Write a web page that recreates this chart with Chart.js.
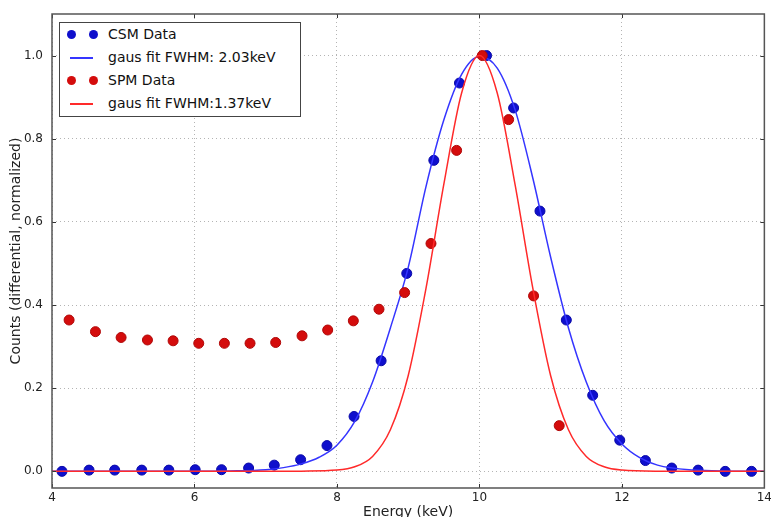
<!DOCTYPE html>
<html>
<head>
<meta charset="utf-8">
<title>Energy spectrum</title>
<script src="https://cdn.jsdelivr.net/npm/chart.js@4"></script>
<style>
  html, body { margin: 0; padding: 0; background: #fff; overflow: hidden; }
  #wrap { position: relative; width: 771px; height: 517px; overflow: hidden; }
  #legend {
    position: absolute; left: 59px; top: 22px; width: 240px; height: 93px;
    border: 1px solid #444; background: #fff;
    font-family: "DejaVu Sans", sans-serif; font-size: 14px; color: #111;
  }
  .row { position: absolute; left: 0; height: 23px; line-height: 23px; width: 100%; }
  .row span.lbl { position: absolute; left: 48px; white-space: nowrap; }
  .dot { position: absolute; top: 7px; width: 9px; height: 9px; border-radius: 50%; }
  .ln { position: absolute; top: 11px; left: 10px; width: 23px; height: 1.5px; }
</style>
</head>
<body>
<div id="wrap">
  <canvas id="chart" width="775" height="517"></canvas>
  <div id="legend">
    <div class="row" style="top:0px"><i class="dot" style="left:7px;background:#0f0fcc"></i><i class="dot" style="left:29px;background:#0f0fcc"></i><span class="lbl">CSM Data</span></div>
    <div class="row" style="top:23px"><i class="ln" style="background:#3535ff"></i><span class="lbl">gaus fit FWHM: 2.03keV</span></div>
    <div class="row" style="top:46px"><i class="dot" style="left:7px;background:#d40c0c"></i><i class="dot" style="left:29px;background:#d40c0c"></i><span class="lbl">SPM Data</span></div>
    <div class="row" style="top:69px"><i class="ln" style="background:#ff2a2a"></i><span class="lbl">gaus fit FWHM:1.37keV</span></div>
  </div>
</div>
<script>
// CSM measured points (energy keV, normalized counts)
const csmEnergy = [4.14, 4.52, 4.88, 5.26, 5.64, 6.01, 6.38, 6.76, 7.12, 7.49, 7.86, 8.24, 8.62,
  8.98, 9.36, 9.72, 10.10, 10.48, 10.85, 11.22, 11.59, 11.97, 12.33, 12.70, 13.07, 13.45, 13.82];
const csmCounts = [0.0, 0.003, 0.003, 0.003, 0.003, 0.004, 0.004, 0.008, 0.015, 0.028, 0.062, 0.132, 0.266,
  0.476, 0.748, 0.934, 1.0, 0.874, 0.626, 0.364, 0.183, 0.075, 0.026, 0.008, 0.003, 0.0, 0.0];

// SPM measured points
const spmEnergy = [4.24, 4.61, 4.97, 5.34, 5.70, 6.06, 6.42, 6.78, 7.14, 7.51, 7.87, 8.23, 8.59,
  8.95, 9.32, 9.68, 10.04, 10.41, 10.76, 11.12];
const spmCounts = [0.364, 0.336, 0.322, 0.316, 0.314, 0.308, 0.308, 0.308, 0.310, 0.326, 0.340, 0.362, 0.390,
  0.430, 0.548, 0.772, 1.0, 0.846, 0.422, 0.110];

// fit curves
const csmFitEnergy = [4, 6, 6.5, 7, 7.25, 7.5, 7.75, 8, 8.25, 8.5, 8.75, 9, 9.25, 9.5, 9.75, 10, 10.25, 10.5,
  10.75, 11, 11.25, 11.5, 11.75, 12, 12.25, 12.5, 13, 13.5, 14];
const csmFitCounts = [0, 0, 0.001, 0.004, 0.009, 0.018, 0.034, 0.063, 0.12, 0.215, 0.345, 0.49, 0.685, 0.845, 0.955, 0.998, 0.97, 0.87,
  0.705, 0.515, 0.345, 0.215, 0.122, 0.066, 0.033, 0.015, 0.003, 0.0005, 0];

const spmFitEnergy = [4, 7, 7.5, 8, 8.25, 8.5, 8.75, 9, 9.25, 9.5, 9.75, 10, 10.25, 10.5, 10.75,
  11, 11.25, 11.5, 11.75, 12, 12.5, 14];
const spmFitCounts = [0, 0, 0.0005, 0.003, 0.011, 0.036, 0.10, 0.23, 0.44, 0.69, 0.91, 1.0, 0.91, 0.69, 0.44,
  0.23, 0.10, 0.036, 0.011, 0.003, 0.0003, 0];

const xTicks = [4, 6, 8, 10, 12, 14];
const yTicks = [0.0, 0.2, 0.4, 0.6, 0.8, 1.0];

function pts(xs, ys) { return xs.map((x, i) => ({ x: x, y: ys[i] })); }

// frame on all four sides + inward tick marks
const frame = {
  id: 'frame',
  afterDatasetsDraw(chart) {
    const { ctx, chartArea: a, scales } = chart;
    ctx.save();
    ctx.strokeStyle = '#333';
    ctx.lineWidth = 1;
    ctx.beginPath();
    xTicks.forEach(v => {
      const px = Math.round(scales.x.getPixelForValue(v)) + 0.5;
      ctx.moveTo(px, a.bottom); ctx.lineTo(px, a.bottom - 4);
      ctx.moveTo(px, a.top); ctx.lineTo(px, a.top + 4);
    });
    yTicks.forEach(v => {
      const py = Math.round(scales.y.getPixelForValue(v)) + 0.5;
      ctx.moveTo(a.left, py); ctx.lineTo(a.left + 4, py);
      ctx.moveTo(a.right, py); ctx.lineTo(a.right - 4, py);
    });
    ctx.stroke();
    ctx.strokeStyle = '#555';
    ctx.lineWidth = 1.5;
    ctx.strokeRect(a.left, a.top, a.right - a.left, a.bottom - a.top);
    ctx.restore();
  }
};

const grid = {
  color: '#b4b4b4',
  lineWidth: 1,
  drawTicks: false
};
const dotted = { display: false, dash: [1, 3] };

new Chart(document.getElementById('chart').getContext('2d'), {
  type: 'scatter',
  data: {
    datasets: [
      {
        label: 'CSM Data',
        data: pts(csmEnergy, csmCounts),
        backgroundColor: '#0f0fcc',
        borderColor: '#0a0aa8',
        borderWidth: 1,
        pointRadius: 5,
        order: 4
      },
      {
        label: 'gaus fit FWHM: 2.03keV',
        data: pts(csmFitEnergy, csmFitCounts),
        showLine: true,
        borderColor: '#3535ff',
        borderWidth: 1.5,
        pointRadius: 0,
        cubicInterpolationMode: 'monotone',
        order: 3
      },
      {
        label: 'SPM Data',
        data: pts(spmEnergy, spmCounts),
        backgroundColor: '#d40c0c',
        borderColor: '#b00808',
        borderWidth: 1,
        pointRadius: 5,
        order: 2
      },
      {
        label: 'gaus fit FWHM:1.37keV',
        data: pts(spmFitEnergy, spmFitCounts),
        showLine: true,
        borderColor: '#ff2a2a',
        borderWidth: 1.5,
        pointRadius: 0,
        cubicInterpolationMode: 'monotone',
        order: 1
      }
    ]
  },
  options: {
    responsive: false,
    animation: false,
    layout: { padding: { top: 14, right: 8, left: 0, bottom: 0 } },
    plugins: {
      legend: { display: false },
      tooltip: { enabled: false }
    },
    scales: {
      x: {
        type: 'linear',
        min: 4,
        max: 14,
        afterBuildTicks: s => { s.ticks = xTicks.map(v => ({ value: v })); },
        afterFit: s => { s.height = 29; },
        grid: grid,
        border: dotted,
        ticks: {
          color: '#222',
          padding: 3,
          font: { family: 'DejaVu Sans', size: 12 },
          callback: v => String(v)
        },
        title: {
          display: true,
          text: 'Energy (keV)',
          color: '#222',
          font: { family: 'DejaVu Sans', size: 14 },
          padding: { top: 0, bottom: -4 }
        }
      },
      y: {
        type: 'linear',
        min: -0.04,
        max: 1.1,
        afterBuildTicks: s => { s.ticks = yTicks.map(v => ({ value: v })); },
        afterFit: s => { s.width = 52; s.paddingTop = 0; s.paddingBottom = 0; },
        grid: grid,
        border: dotted,
        ticks: {
          color: '#222',
          padding: 9,
          font: { family: 'DejaVu Sans', size: 12 },
          callback: v => v.toFixed(1)
        },
        title: {
          display: true,
          text: 'Counts (differential, normalized)',
          color: '#222',
          font: { family: 'DejaVu Sans', size: 14 },
          padding: { top: 8, bottom: 0 }
        }
      }
    }
  },
  plugins: [frame]
});
</script>
</body>
</html>
